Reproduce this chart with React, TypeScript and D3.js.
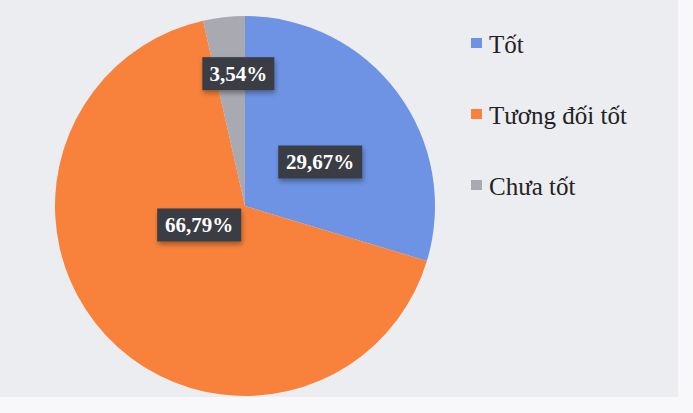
import React from 'react';
import * as d3 from 'd3';

// chart values
const categories = ['Tốt', 'Tương đối tốt', 'Chưa tốt'];
const values = [29.67, 66.79, 3.54];
const labels = ['29,67%', '66,79%', '3,54%'];
const colors = ['#6E93E5', '#F8823B', '#A8A9B1'];

// best-fit label placement (radius fraction of r, angle shift in degrees)
const labelRadius = [0.46, 0.26, 0.7];
const labelShift = [6, 21, 3.5];

const W = 693;
const H = 413;

export default function App() {
  const cx = 245;
  const cy = 206;
  const r = 190;

  const pie = d3.pie<number>().value(d => d).sort(null);
  const arcs = pie(values);
  const arc = d3.arc<d3.PieArcDatum<number>>().innerRadius(0).outerRadius(r);

  const legendY = d3.scalePoint<string>().domain(categories).range([45, 187]);

  return (
    <svg width={W} height={H} style={{ position: 'absolute', left: 0, top: 0 }}
      fontFamily="'Liberation Serif', 'DejaVu Serif', serif">
      <defs>
        <filter id="shadow" x="-20%" y="-20%" width="140%" height="160%">
          <feDropShadow dx="1" dy="3" stdDeviation="2.5" floodColor="#000" floodOpacity="0.35" />
        </filter>
      </defs>
      <rect width={W} height={H} fill="#F8F8FA" />
      <rect width={678} height={397} fill="#ECEDF1" />

      <g transform={`translate(${cx},${cy})`}>
        {arcs.map((a, i) => (
          <path key={i} d={arc(a) || ''} fill={colors[i]} />
        ))}
        {arcs.map((a, i) => {
          const mid = (a.startAngle + a.endAngle) / 2 + (labelShift[i] * Math.PI) / 180;
          const rr = r * labelRadius[i];
          const x = Math.sin(mid) * rr;
          const y = -Math.cos(mid) * rr;
          const bw = labels[i].length * 12 + 12;
          return (
            <g key={'l' + i} transform={`translate(${x},${y})`}>
              <rect x={-bw / 2} y={-16} width={bw} height={33} fill="#3B3D45" filter="url(#shadow)" />
              <text textAnchor="middle" dy="0.36em" fill="#fff" fontWeight="bold" fontSize={21}>
                {labels[i]}
              </text>
            </g>
          );
        })}
      </g>

      <g transform="translate(471,0)">
        {categories.map((c, i) => (
          <g key={c} transform={`translate(0,${legendY(c)})`}>
            <rect x={0} y={-7} width={11} height={10} fill={colors[i]} />
            <text x={18} y={8} fontSize={25} fill="#222">{c}</text>
          </g>
        ))}
      </g>
    </svg>
  );
}
